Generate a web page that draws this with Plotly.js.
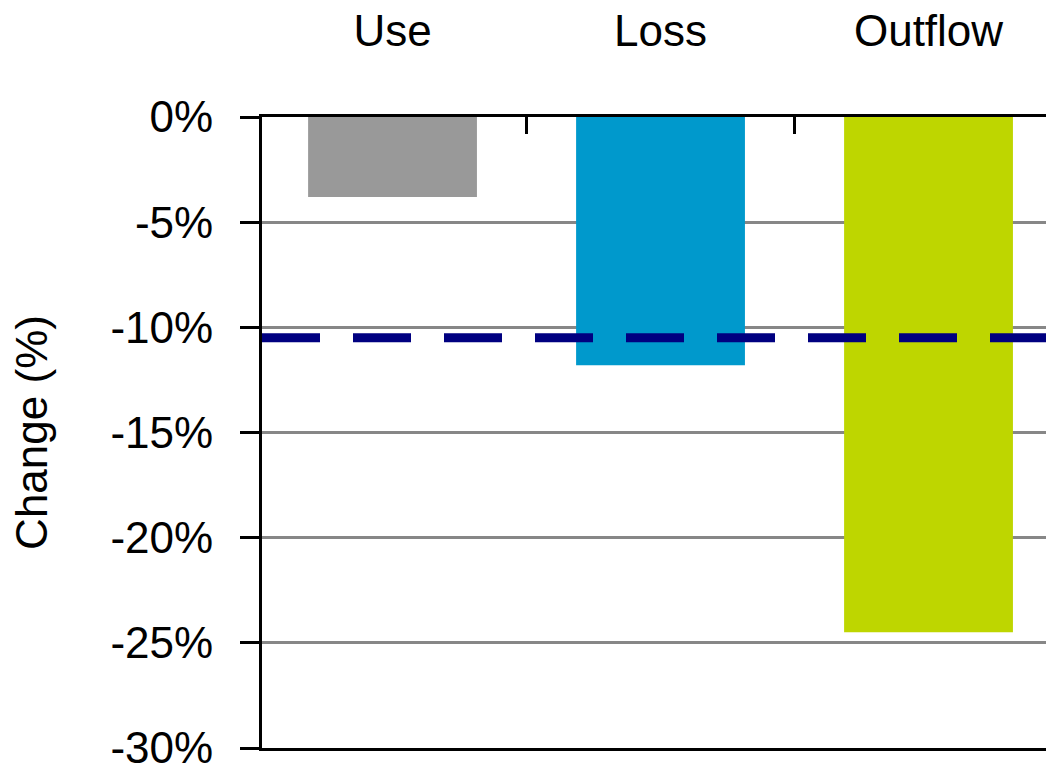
<!DOCTYPE html>
<html>
<head>
<meta charset="utf-8">
<script src="https://cdn.plot.ly/plotly-3.0.1.min.js"></script>
<style>
  html, body { margin: 0; padding: 0; background: #ffffff; }
  #chart { width: 1046px; height: 768px; }
</style>
</head>
<body>
<div id="chart"></div>
<script>
// Components of the water budget and their percentage change
const categories = ['Use', 'Loss', 'Outflow'];
const changePct = [-3.8, -11.8, -24.5];
const barColors = ['#999999', '#0099cc', '#bed600'];
// Overall change, drawn as a dashed reference line
const totalChangePct = -10.5;
const yTickValues = [0, -5, -10, -15, -20, -25, -30];

const FONT = 'Liberation Sans, Arial, sans-serif';
const plotWidthPx = 1046 - 262;
const categoryPx = 268;
const xStart = -0.487;

const trace = {
  type: 'bar',
  x: categories,
  y: changePct,
  width: 0.63,
  marker: { color: barColors, line: { width: 0 } },
  hoverinfo: 'x+y'
};

const layout = {
  width: 1046,
  height: 768,
  margin: { l: 262, r: 0, t: 117, b: 20, pad: 0 },
  paper_bgcolor: '#ffffff',
  plot_bgcolor: '#ffffff',
  showlegend: false,
  font: { family: FONT, size: 44, color: '#000000' },
  xaxis: {
    type: 'category',
    side: 'top',
    range: [xStart, xStart + plotWidthPx / categoryPx],
    tickson: 'boundaries',
    ticks: 'inside',
    ticklen: 17,
    tickwidth: 3,
    tickcolor: '#000000',
    showline: true,
    linecolor: '#000000',
    linewidth: 3,
    mirror: true,
    showgrid: false,
    zeroline: false,
    ticklabelstandoff: 50,
    ticklabeloverflow: 'allow',
    tickfont: { family: FONT, size: 44, color: '#000000' }
  },
  yaxis: {
    range: [-30, 0],
    tickvals: yTickValues,
    ticktext: yTickValues.map(v => v + '%'),
    ticks: 'outside',
    ticklen: 19,
    tickwidth: 3,
    tickcolor: '#000000',
    showline: true,
    linecolor: '#000000',
    linewidth: 3,
    showgrid: true,
    gridcolor: '#878787',
    gridwidth: 3,
    zeroline: false,
    ticklabelstandoff: 18,
    ticklabeloverflow: 'allow',
    tickfont: { family: FONT, size: 44, color: '#000000' },
    title: {
      text: 'Change (%)',
      font: { family: FONT, size: 44, color: '#000000' },
      standoff: 50
    }
  },
  shapes: [{
    type: 'line',
    layer: 'above',
    xref: 'paper', x0: 0, x1: 1,
    yref: 'y', y0: totalChangePct, y1: totalChangePct,
    line: { color: '#000080', width: 9, dash: '58px,33px' }
  }]
};

Plotly.newPlot('chart', [trace], layout, { displayModeBar: false, staticPlot: true });
</script>
</body>
</html>
